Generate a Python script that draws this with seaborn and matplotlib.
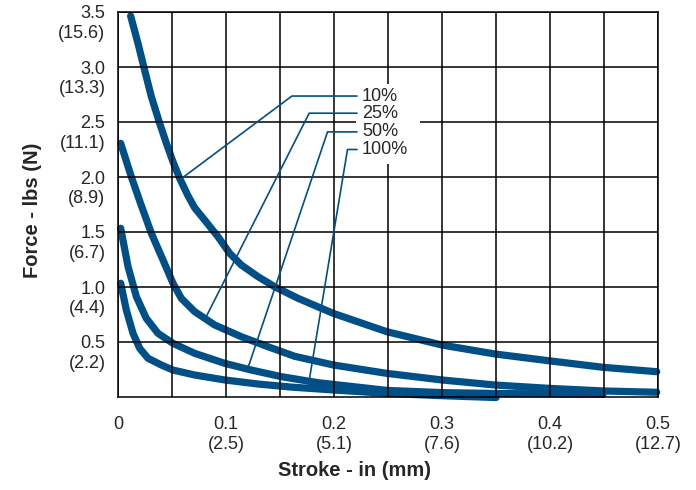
import numpy as np
import pandas as pd
import matplotlib
matplotlib.use("Agg")
import matplotlib.pyplot as plt
import matplotlib.transforms as mtransforms
from matplotlib.patches import Rectangle
import seaborn as sns

# ---- data (stroke in inches, force in lbs) ----
stroke_10 = [0.0117, 0.0185, 0.0247, 0.0309, 0.0386, 0.0448, 0.0509, 0.0571, 0.0648, 0.071,
             0.0802, 0.0926, 0.1034, 0.1142, 0.1296, 0.145, 0.1667, 0.1994, 0.2488, 0.2997,
             0.349, 0.3985, 0.449, 0.4988]
force_10 = [3.464, 3.215, 2.97, 2.73, 2.488, 2.306, 2.139, 1.988, 1.83, 1.72,
            1.609, 1.457, 1.306, 1.2, 1.094, 1.003, 0.897, 0.76, 0.594, 0.473,
            0.391, 0.33, 0.27, 0.23]

stroke_25 = [0.0025, 0.0123, 0.0209, 0.0309, 0.0417, 0.0509, 0.0586, 0.071, 0.0895, 0.1142,
             0.1389, 0.1636, 0.1994, 0.2488, 0.2997, 0.349, 0.3985, 0.449, 0.4988]
force_25 = [2.306, 2.003, 1.76, 1.488, 1.245, 1.034, 0.897, 0.776, 0.655, 0.548,
            0.457, 0.37, 0.291, 0.215, 0.155, 0.109, 0.079, 0.055, 0.043]

stroke_50 = [0.0025, 0.0093, 0.017, 0.0262, 0.037, 0.0509, 0.071, 0.0988, 0.1235, 0.1512,
             0.1852, 0.249, 0.2997, 0.349, 0.3985, 0.449]
force_50 = [1.534, 1.185, 0.912, 0.715, 0.579, 0.488, 0.397, 0.306, 0.245, 0.185,
            0.13, 0.06, 0.04, 0.032, 0.028, 0.025]

stroke_100 = [0.0025, 0.0077, 0.0139, 0.0201, 0.0278, 0.0401, 0.0509, 0.071, 0.0988, 0.1296,
              0.1605, 0.1994, 0.249, 0.2997, 0.35]
force_100 = [1.034, 0.791, 0.579, 0.442, 0.352, 0.291, 0.245, 0.2, 0.155, 0.118,
             0.09, 0.064, 0.033, 0.012, -0.005]

duty_labels = ["10%", "25%", "50%", "100%"]
label_y = [2.736, 2.58, 2.41, 2.25]
leader_knee_x = [0.161, 0.177, 0.194, 0.2125]
leader_end_x = [0.0593, 0.0815, 0.120, 0.176]
leader_end_y = [1.99, 0.727, 0.255, 0.09]

x_ticks = [0, 0.1, 0.2, 0.3, 0.4, 0.5]
x_ticklabels = ["0", "0.1\n(2.5)", "0.2\n(5.1)", "0.3\n(7.6)", "0.4\n(10.2)", "0.5\n(12.7)"]
y_ticks = [0.5, 1.0, 1.5, 2.0, 2.5, 3.0, 3.5]
y_ticklabels = ["0.5\n(2.2)", "1.0\n(4.4)", "1.5\n(6.7)", "2.0\n(8.9)", "2.5\n(11.1)", "3.0\n(13.3)", "3.5\n(15.6)"]

BLUE = "#005088"

sns.set_style("white")
plt.rcParams["font.family"] = ["Liberation Sans", "DejaVu Sans"]

frames = []
for lab, xs, ys in zip(duty_labels, [stroke_10, stroke_25, stroke_50, stroke_100],
                       [force_10, force_25, force_50, force_100]):
    frames.append(pd.DataFrame({"stroke": xs, "force": ys, "duty": lab}))
df = pd.concat(frames, ignore_index=True)

fig = plt.figure(figsize=(6.96, 4.90), dpi=100)
ax = fig.add_axes([118 / 696, 1 - 397 / 490, 540 / 696, 385 / 490])

sns.lineplot(data=df, x="stroke", y="force", hue="duty", palette=[BLUE] * 4,
             sort=False, estimator=None, legend=False, linewidth=5.2,
             clip_on=False, ax=ax, zorder=2)
for ln in ax.get_lines():
    ln.set_solid_joinstyle("round")

ax.set_xlim(0, 0.5)
ax.set_ylim(0, 3.5)

# grid on top of curves, like the original
ax.set_axisbelow(False)
ax.set_xticks(x_ticks)
ax.set_xticklabels(x_ticklabels, fontsize=13, va="top", linespacing=1.2)
ax.set_xticks(np.arange(0.05, 0.5, 0.1), minor=True)
ax.set_yticks(y_ticks)
ax.set_yticklabels(y_ticklabels, fontsize=13, va="top", linespacing=1.2)
ax.tick_params(axis="both", which="major", direction="out", length=6, width=1.1, color="black")
ax.tick_params(axis="x", which="major", pad=8)
ax.tick_params(axis="y", which="major", pad=3)
ax.tick_params(axis="x", which="minor", length=0)
ax.xaxis.get_major_ticks()[0].tick1line.set_visible(False)
ax.grid(True, which="both", color="black", linewidth=1.1)

# shift y tick labels up so the first line sits on the tick
shift = mtransforms.ScaledTranslation(0, 6.5 / 100, fig.dpi_scale_trans)
for lbl in ax.get_yticklabels():
    lbl.set_transform(lbl.get_transform() + shift)

for sp in ax.spines.values():
    sp.set_color("black")
    sp.set_linewidth(1.1)

# white box behind the duty-cycle labels
ax.add_patch(Rectangle((0.220, 2.115), 0.060, 0.73, facecolor="white",
                       edgecolor="none", zorder=3))

for lab, ly, kx, ex, ey in zip(duty_labels, label_y, leader_knee_x, leader_end_x, leader_end_y):
    ax.plot([ex, kx, 0.2213], [ey, ly, ly], color=BLUE, linewidth=1.2, zorder=4)
    ax.text(0.226, ly, lab, fontsize=13, ha="left", va="center", zorder=5)

ax.set_xlabel("Stroke - in (mm)", fontsize=14.5, fontweight="bold")
ax.set_ylabel("Force - lbs (N)", fontsize=14.5, fontweight="bold")
ax.xaxis.set_label_coords(0.438, -0.165)
ax.yaxis.set_label_coords(-0.14, 0.486)

fig.savefig("out.png", dpi=100)
